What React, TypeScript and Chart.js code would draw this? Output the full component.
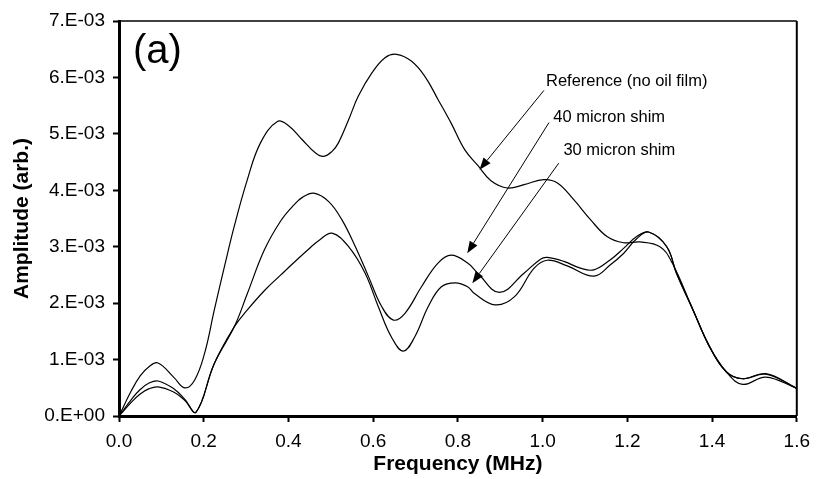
import React, { useEffect, useRef } from "react";
import { Chart, registerables } from "chart.js";

Chart.register(...registerables);

// Amplitude values are in units of 1e-3 (arb.)
const refFreq = [0, 0.03, 0.05, 0.07, 0.092, 0.13, 0.155, 0.178, 0.202, 0.225, 0.249, 0.272, 0.303, 0.334, 0.374, 0.401, 0.432, 0.464, 0.483, 0.503, 0.518, 0.542, 0.565, 0.597, 0.628, 0.655, 0.69, 0.722, 0.753, 0.784, 0.816, 0.847, 0.878, 0.917, 0.956, 1.003, 1.035, 1.074, 1.113, 1.152, 1.191, 1.23, 1.277, 1.306, 1.355, 1.394, 1.434, 1.472, 1.527, 1.6];
const refAmp = [0, 0.46, 0.71, 0.87, 0.94, 0.68, 0.5, 0.63, 1.11, 1.88, 2.65, 3.36, 4.19, 4.84, 5.22, 5.14, 4.9, 4.66, 4.6, 4.69, 4.84, 5.25, 5.67, 6.08, 6.35, 6.41, 6.29, 6.02, 5.61, 5.19, 4.72, 4.44, 4.17, 4.04, 4.1, 4.19, 4.13, 3.83, 3.48, 3.18, 3.07, 3.085, 3.0, 2.71, 1.88, 1.23, 0.78, 0.66, 0.74, 0.49];

const shim40Freq = [0, 0.03, 0.05, 0.07, 0.092, 0.13, 0.155, 0.182, 0.225, 0.272, 0.303, 0.343, 0.382, 0.413, 0.432, 0.46, 0.495, 0.526, 0.558, 0.589, 0.62, 0.648, 0.675, 0.714, 0.753, 0.784, 0.823, 0.847, 0.898, 0.956, 0.995, 1.011, 1.05, 1.089, 1.121, 1.16, 1.191, 1.222, 1.25, 1.293, 1.316, 1.355, 1.394, 1.434, 1.472, 1.527, 1.6];
const shim40Amp = [0, 0.3, 0.47, 0.58, 0.62, 0.48, 0.3, 0.07, 0.93, 1.58, 2.17, 2.94, 3.46, 3.74, 3.87, 3.95, 3.8, 3.48, 3.0, 2.47, 1.94, 1.7, 1.82, 2.29, 2.71, 2.85, 2.71, 2.53, 2.19, 2.53, 2.78, 2.81, 2.74, 2.62, 2.59, 2.77, 2.97, 3.18, 3.26, 3.0, 2.53, 1.88, 1.23, 0.78, 0.66, 0.75, 0.49];

const shim30Freq = [0, 0.03, 0.05, 0.07, 0.092, 0.13, 0.155, 0.182, 0.225, 0.272, 0.303, 0.343, 0.382, 0.413, 0.448, 0.475, 0.503, 0.542, 0.581, 0.612, 0.643, 0.671, 0.698, 0.73, 0.761, 0.794, 0.823, 0.839, 0.888, 0.933, 0.98, 1.011, 1.058, 1.121, 1.16, 1.191, 1.222, 1.25, 1.293, 1.316, 1.355, 1.394, 1.434, 1.472, 1.527, 1.6];
const shim30Amp = [0, 0.25, 0.39, 0.48, 0.515, 0.42, 0.28, 0.07, 0.93, 1.58, 1.88, 2.22, 2.5, 2.72, 2.96, 3.13, 3.24, 3.0, 2.53, 1.94, 1.4, 1.15, 1.4, 1.94, 2.29, 2.36, 2.29, 2.17, 1.97, 2.11, 2.62, 2.76, 2.66, 2.48, 2.68, 2.88, 3.14, 3.26, 3.0, 2.53, 1.88, 1.23, 0.78, 0.56, 0.69, 0.49];

const yTickLabels = ["0.E+00", "1.E-03", "2.E-03", "3.E-03", "4.E-03", "5.E-03", "6.E-03", "7.E-03"];
const xTitle = "Frequency (MHz)";
const yTitle = "Amplitude (arb.)";
const panelLabel = "(a)";

const annotationLabels = ["Reference (no oil film)", "40 micron shim", "30 micron shim"];
const annotationTextX = [1.008, 1.025, 1.049];
const annotationTextY = [5.925, 5.288, 4.702];
const arrowStartX = [1.003, 1.015, 1.038];
const arrowStartY = [5.77, 5.2, 4.48];
const arrowEndX = [0.851, 0.822, 0.834];
const arrowEndY = [4.364, 2.885, 2.352];

const FONT = "'Liberation Sans', Arial, Helvetica, sans-serif";

function pts(xs: number[], ys: number[]) {
  return xs.map((x, i) => ({ x, y: ys[i] }));
}

const framePlugin = {
  id: "frameAndNotes",
  afterDraw(chart: any) {
    const { ctx, chartArea, scales } = chart;
    const xs = scales.x;
    const ys = scales.y;
    ctx.save();
    // top and right border
    ctx.strokeStyle = "#000";
    ctx.lineWidth = 1.5;
    ctx.beginPath();
    ctx.moveTo(chartArea.left, chartArea.top);
    ctx.lineTo(chartArea.right, chartArea.top);
    ctx.stroke();
    ctx.lineWidth = 2;
    ctx.beginPath();
    ctx.moveTo(chartArea.right, chartArea.top);
    ctx.lineTo(chartArea.right, chartArea.bottom);
    ctx.stroke();

    // panel label
    ctx.fillStyle = "#000";
    ctx.font = `40px ${FONT}`;
    ctx.textAlign = "left";
    ctx.textBaseline = "alphabetic";
    ctx.fillText(panelLabel, xs.getPixelForValue(0.033), ys.getPixelForValue(6.26));

    // annotations
    ctx.font = `16.5px ${FONT}`;
    ctx.textBaseline = "middle";
    for (let i = 0; i < annotationLabels.length; i++) {
      ctx.fillText(annotationLabels[i], xs.getPixelForValue(annotationTextX[i]), ys.getPixelForValue(annotationTextY[i]));
      const x0 = xs.getPixelForValue(arrowStartX[i]);
      const y0 = ys.getPixelForValue(arrowStartY[i]);
      const x1 = xs.getPixelForValue(arrowEndX[i]);
      const y1 = ys.getPixelForValue(arrowEndY[i]);
      const ang = Math.atan2(y1 - y0, x1 - x0);
      const headLen = 12;
      const headW = 4.5;
      const bx = x1 - headLen * Math.cos(ang);
      const by = y1 - headLen * Math.sin(ang);
      ctx.lineWidth = 1;
      ctx.beginPath();
      ctx.moveTo(x0, y0);
      ctx.lineTo(bx, by);
      ctx.stroke();
      ctx.beginPath();
      ctx.moveTo(x1, y1);
      ctx.lineTo(bx + headW * Math.sin(ang), by - headW * Math.cos(ang));
      ctx.lineTo(bx - headW * Math.sin(ang), by + headW * Math.cos(ang));
      ctx.closePath();
      ctx.fill();
    }
    ctx.restore();
  },
};

export default function App() {
  const canvasRef = useRef<HTMLCanvasElement | null>(null);

  useEffect(() => {
    document.body.style.margin = "0";
    const canvas = canvasRef.current;
    if (!canvas) return;
    const lineStyle = {
      borderColor: "#000",
      borderWidth: 1.2,
      pointRadius: 0,
      fill: false,
      tension: 0.4,
    };
    const chart = new Chart(canvas, {
      type: "line",
      data: {
        datasets: [
          { label: annotationLabels[0], data: pts(refFreq, refAmp), ...lineStyle },
          { label: annotationLabels[1], data: pts(shim40Freq, shim40Amp), ...lineStyle },
          { label: annotationLabels[2], data: pts(shim30Freq, shim30Amp), ...lineStyle },
        ],
      },
      options: {
        animation: false,
        responsive: true,
        maintainAspectRatio: false,
        layout: { padding: { top: 21, right: 17, left: 0, bottom: 0 } },
        plugins: { legend: { display: false }, tooltip: { enabled: false } },
        scales: {
          x: {
            type: "linear",
            min: 0,
            max: 1.6,
            ticks: {
              stepSize: 0.2,
              color: "#000",
              font: { family: FONT, size: 19 },
              padding: 8,
              maxRotation: 0,
              callback: (v: any) => Number(v).toFixed(1),
            },
            grid: { display: true, drawOnChartArea: false, drawTicks: true, tickLength: 6, tickWidth: 2, tickColor: "#000" },
            border: { display: true, color: "#000", width: 3 },
            title: {
              display: true,
              text: xTitle,
              color: "#000",
              font: { family: FONT, size: 21, weight: "bold" },
              padding: { top: 0, bottom: 2 },
            },
            afterFit: (scale: any) => {
              scale.height = 63;
            },
          },
          y: {
            type: "linear",
            min: 0,
            max: 7,
            ticks: {
              stepSize: 1,
              color: "#000",
              font: { family: FONT, size: 19 },
              padding: 8,
              callback: (v: any) => yTickLabels[Math.round(Number(v))],
            },
            grid: { display: true, drawOnChartArea: false, drawTicks: true, tickLength: 6, tickWidth: 2, tickColor: "#000" },
            border: { display: true, color: "#000", width: 3 },
            title: {
              display: true,
              text: yTitle,
              color: "#000",
              font: { family: FONT, size: 21, weight: "bold" },
              padding: { top: 10, bottom: 0 },
            },
            afterFit: (scale: any) => {
              scale.width = 119;
            },
          },
        },
      },
      plugins: [framePlugin],
    });
    return () => chart.destroy();
  }, []);

  return (
    <div style={{ width: 818, height: 479, position: "relative" }}>
      <canvas ref={canvasRef} />
    </div>
  );
}
